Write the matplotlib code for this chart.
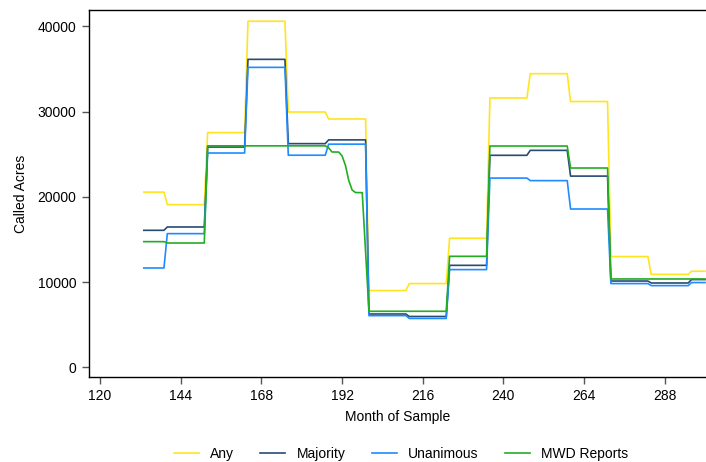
### Imports ###
import numpy as np
import matplotlib
matplotlib.use("Agg")
import matplotlib.pyplot as plt

### Data ###
# each series is given as (first month of a level, level); a level holds until the next one
last_month = 300

any_steps = [(133, 20550), (140, 19080), (152, 27530), (164, 40600), (176, 29950),
             (188, 29130), (200, 9000), (212, 9820), (224, 15140), (236, 31600),
             (248, 34450), (260, 31180), (272, 12990), (284, 10900), (296, 11270)]

majority_steps = [(133, 16070), (140, 16460), (152, 25840), (164, 36130), (176, 26240),
                  (188, 26680), (200, 6250), (212, 5960), (224, 11960), (236, 24870),
                  (248, 25450), (260, 22430), (272, 10120), (284, 9890), (296, 10290)]

unanimous_steps = [(133, 11650), (140, 15680), (152, 25140), (164, 35190), (176, 24880),
                   (188, 26180), (200, 6060), (212, 5730), (224, 11460), (236, 22200),
                   (248, 21900), (260, 18570), (272, 9820), (284, 9580), (296, 9940)]

mwd_steps = [(133, 14740), (140, 14580), (152, 25980), (188, 25750), (189, 25260),
             (190, 25260), (191, 25250), (192, 24800), (193, 23700), (194, 21900),
             (195, 20800), (196, 20500), (197, 20490), (199, 13530), (200, 6570),
             (224, 13020), (236, 25960), (260, 23380), (272, 10360)]

labels = ["Any", "Majority", "Unanimous", "MWD Reports"]
colors = ["#FFE51F", "#284B73", "#1E8CFF", "#22AD22"]

xticks = [120, 144, 168, 192, 216, 240, 264, 288]
yticks = [0, 10000, 20000, 30000, 40000]

### Functions ###

def expand_steps(steps, end):
    """Turn (start month, level) pairs into monthly arrays."""
    starts = [s for s, _ in steps] + [end + 1]
    months, vals = [], []
    for i, (s, v) in enumerate(steps):
        n = starts[i + 1] - s
        months.extend(range(s, starts[i + 1]))
        vals.extend([v] * n)
    return np.array(months), np.array(vals)

### Plot ###
plt.rcParams['font.family'] = ['Liberation Sans', 'DejaVu Sans']

fig = plt.figure(figsize=(7.06, 4.62), dpi=100)
ax = fig.add_axes([0.1261, 0.184, 0.8739, 0.794])

for steps, lab, col in zip([any_steps, majority_steps, unanimous_steps, mwd_steps], labels, colors):
    m, v = expand_steps(steps, last_month)
    ax.plot(m, v, color=col, lw=1.2, label=lab)

ax.set_xlim(116.7, 300.3)
ax.set_ylim(-1140, 41900)
ax.set_xticks(xticks)
ax.set_yticks(yticks)
ax.tick_params(axis='both', direction='out', length=5, width=1, color='#555555',
               labelsize=10, pad=4)
ax.spines['right'].set_visible(False)
for s in ['left', 'bottom', 'top']:
    ax.spines[s].set_linewidth(1.0)
    ax.spines[s].set_color('black')

ax.set_xlabel('Month of Sample', fontsize=10, labelpad=5)
ax.set_ylabel('Called Acres', fontsize=10, labelpad=7)

fig.legend(loc='center', bbox_to_anchor=(0.568, 0.017), ncol=4, frameon=False,
           fontsize=10, handlelength=1.8, handletextpad=0.8, columnspacing=1.9)

fig.savefig('out.png', dpi=100)
